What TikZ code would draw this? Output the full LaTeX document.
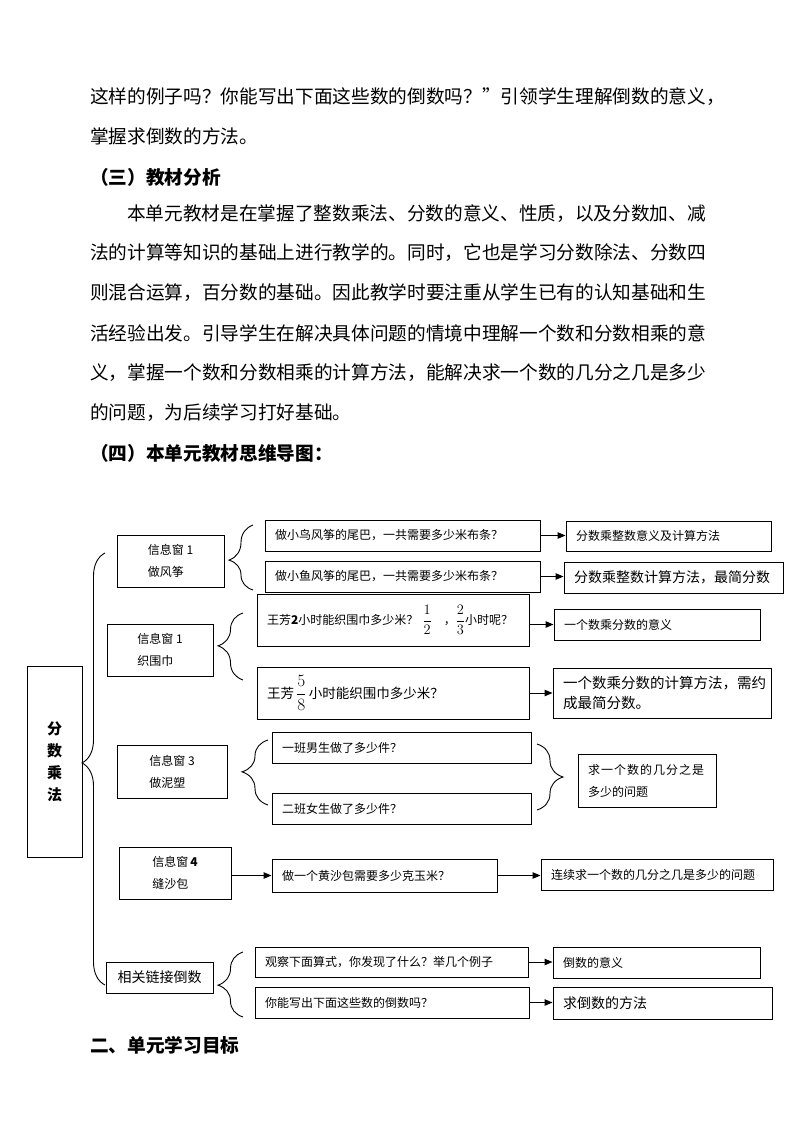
\documentclass[tikz,border=0pt]{standalone}
\usepackage{amsmath}
\usepackage{fontspec}
\setmainfont{Noto Sans CJK SC}
\usetikzlibrary{arrows.meta,decorations.pathreplacing}
\tikzset{
    every picture/.style={line join=miter},
    bodytext/.style={anchor=west,inner sep=0pt,
      font=\fontsize{18.67}{18.67}\selectfont},
    headtext/.style={bodytext,font=\fontsize{18.67}{18.67}\selectfont\bfseries},
    rootbox/.style={draw,line width=1pt,minimum width=55pt,minimum height=191pt,
      inner sep=0pt,align=center,font=\fontsize{15}{22}\selectfont\bfseries},
    winbox/.style={draw,line width=1pt,inner sep=0pt,align=left,
      font=\fontsize{12}{22}\selectfont},
    qbox/.style={draw,line width=1pt,inner xsep=10pt,inner ysep=0pt,align=left,
      font=\fontsize{12}{18}\selectfont},
    flowarrow/.style={-{Triangle[length=8pt,width=6.5pt]},line width=1pt},
    bracemark/.style 2 args={decorate,decoration={brace,amplitude=#1,aspect=#2},
      line width=0.9pt}
}
\begin{document}
\begin{tikzpicture}[x=1pt,y=-1pt]
  \fill[white] (0,0) rectangle (794,1123);
  \useasboundingbox (0,0) rectangle (794,1123);
  % running text above the map
  \node[bodytext] (l1) at (90,97) {这样的例子吗？你能写出下面这些数的倒数吗？”引领学生理解倒数的意义，};
  \node[bodytext] (l2) at (90,136) {掌握求倒数的方法。};
  \node[headtext] (h3) at (90,177) {（三）教材分析};
  \node[bodytext] (l4) at (127,214) {本单元教材是在掌握了整数乘法、分数的意义、性质，以及分数加、减};
  \node[bodytext] (l5) at (90,253) {法的计算等知识的基础上进行教学的。同时，它也是学习分数除法、分数四};
  \node[bodytext] (l6) at (90,293) {则混合运算，百分数的基础。因此教学时要注重从学生已有的认知基础和生};
  \node[bodytext] (l7) at (90,333) {活经验出发。引导学生在解决具体问题的情境中理解一个数和分数相乘的意};
  \node[bodytext] (l8) at (90,373) {义，掌握一个数和分数相乘的计算方法，能解决求一个数的几分之几是多少};
  \node[bodytext] (l9) at (90,413) {的问题，为后续学习打好基础。};
  \node[headtext] (h4) at (90,453) {（四）本单元教材思维导图：};
  \node[headtext] (h5) at (90,1045) {二、单元学习目标};

  % root and the five windows
  \node[rootbox] (root) at (54.5,761.5) {分\\数\\乘\\法};
  \node[winbox,minimum width=107pt,minimum height=52pt] (w1) at (170.5,561)
    {信息窗~1\\做风筝};
  \node[winbox,minimum width=106pt,minimum height=52pt] (w2) at (160,650)
    {信息窗~1\\织围巾};
  \node[winbox,minimum width=110pt,minimum height=53pt] (w3) at (172,771.5)
    {信息窗~3\\做泥塑};
  \node[winbox,minimum width=112pt,minimum height=52pt] (w4) at (175,873)
    {信息窗\,\textbf{4}\\缝沙包};
  \node[winbox,minimum width=107pt,minimum height=31pt,
    font=\fontsize{14}{18}\selectfont] (w5) at (159.5,977.5) {相关链接倒数};
  \draw[bracemark={23}{0.514}] (105,985) -- (105,553);

  % questions
  \node[qbox,text width=255pt,minimum height=31pt] (q11) at (402.5,535.5)
    {做小鸟风筝的尾巴，一共需要多少米布条？};
  \node[qbox,text width=255pt,minimum height=31pt] (q12) at (402.5,576.5)
    {做小鱼风筝的尾巴，一共需要多少米布条？};
  \node[qbox,text width=252pt,minimum height=52pt] (q21) at (393,620)
    {王芳\textbf{2}小时能织围巾多少米？ {\fontsize{15}{18}\selectfont$\dfrac{1}{2}$}\quad，{\fontsize{15}{18}\selectfont$\dfrac{2}{3}$}小时呢？};
  \node[qbox,text width=252pt,minimum height=52pt,
    font=\fontsize{13.5}{18}\selectfont] (q22) at (393,693)
    {王芳\,{\fontsize{19}{20}\selectfont$\dfrac{5}{8}$}\,小时能织围巾多少米？};
  \node[qbox,text width=239pt,minimum height=31pt] (q31) at (401.5,747.5)
    {一班男生做了多少件？};
  \node[qbox,text width=239pt,minimum height=31pt] (q32) at (401.5,808.5)
    {二班女生做了多少件？};
  \node[qbox,text width=205pt,minimum height=33pt] (q4) at (384.5,875.5)
    {做一个黄沙包需要多少克玉米？};
  \node[qbox,text width=253pt,minimum height=30pt] (q51) at (391.5,962)
    {观察下面算式，你发现了什么？举几个例子};
  \node[qbox,text width=254pt,minimum height=31pt] (q52) at (392,1002.5)
    {你能写出下面这些数的倒数吗？};
  \draw[bracemark={24}{0.46}] (253,590) -- (253,525);
  \draw[bracemark={25}{0.51}] (243,680) -- (243,613);
  \draw[bracemark={26}{0.51}] (268,805) -- (268,740);
  \draw[bracemark={25}{0.49}] (243,1017) -- (243,952);

  % results
  \node[qbox,text width=185pt,minimum height=30pt] (r11) at (668.5,536)
    {分数乘整数意义及计算方法};
  \node[qbox,text width=199pt,minimum height=31pt,
    font=\fontsize{14}{18}\selectfont] (r12) at (673.5,577.5)
    {分数乘整数计算方法，最简分数};
  \node[qbox,text width=186pt,minimum height=31pt] (r21) at (657,624.5)
    {一个数乘分数的意义};
  \node[qbox,text width=198pt,minimum height=50pt,
    font=\fontsize{14.5}{20}\selectfont] (r22) at (662,693)
    {一个数乘分数的计算方法，需约\\成最简分数。};
  \node[qbox,text width=118pt,minimum height=53pt,
    font=\fontsize{12}{22}\selectfont] (r3) at (647,780.5)
    {\makebox[116pt][s]{求\hfil 一\hfil 个\hfil 数\hfil 的\hfil 几\hfil 分\hfil 之\hfil 是}\\多少的问题};
  \node[qbox,text width=212pt,minimum height=31pt] (r4) at (657,874.5)
    {连续求一个数的几分之几是多少的问题};
  \node[qbox,text width=187pt,minimum height=31pt] (r51) at (656.5,962.5)
    {倒数的意义};
  \node[qbox,text width=199pt,minimum height=32pt,
    font=\fontsize{14}{18}\selectfont] (r52) at (662.5,1003)
    {求倒数的方法};
  \draw[bracemark={26}{0.5}] (537,744) -- (537,810);

  \draw[flowarrow] (q11.east) -- (q11.east -| r11.west);
  \draw[flowarrow] (q12.east) -- (q12.east -| r12.west);
  \draw[flowarrow] (q21.east |- r21.west) -- (r21.west);
  \draw[flowarrow] (q22.east) -- (q22.east -| r22.west);
  \draw[flowarrow] (w4.east |- q4.west) -- (q4.west);
  \draw[flowarrow] (q4.east) -- (q4.east -| r4.west);
  \draw[flowarrow] (q51.east) -- (q51.east -| r51.west);
  \draw[flowarrow] (q52.east) -- (q52.east -| r52.west);
\end{tikzpicture}
\end{document}
